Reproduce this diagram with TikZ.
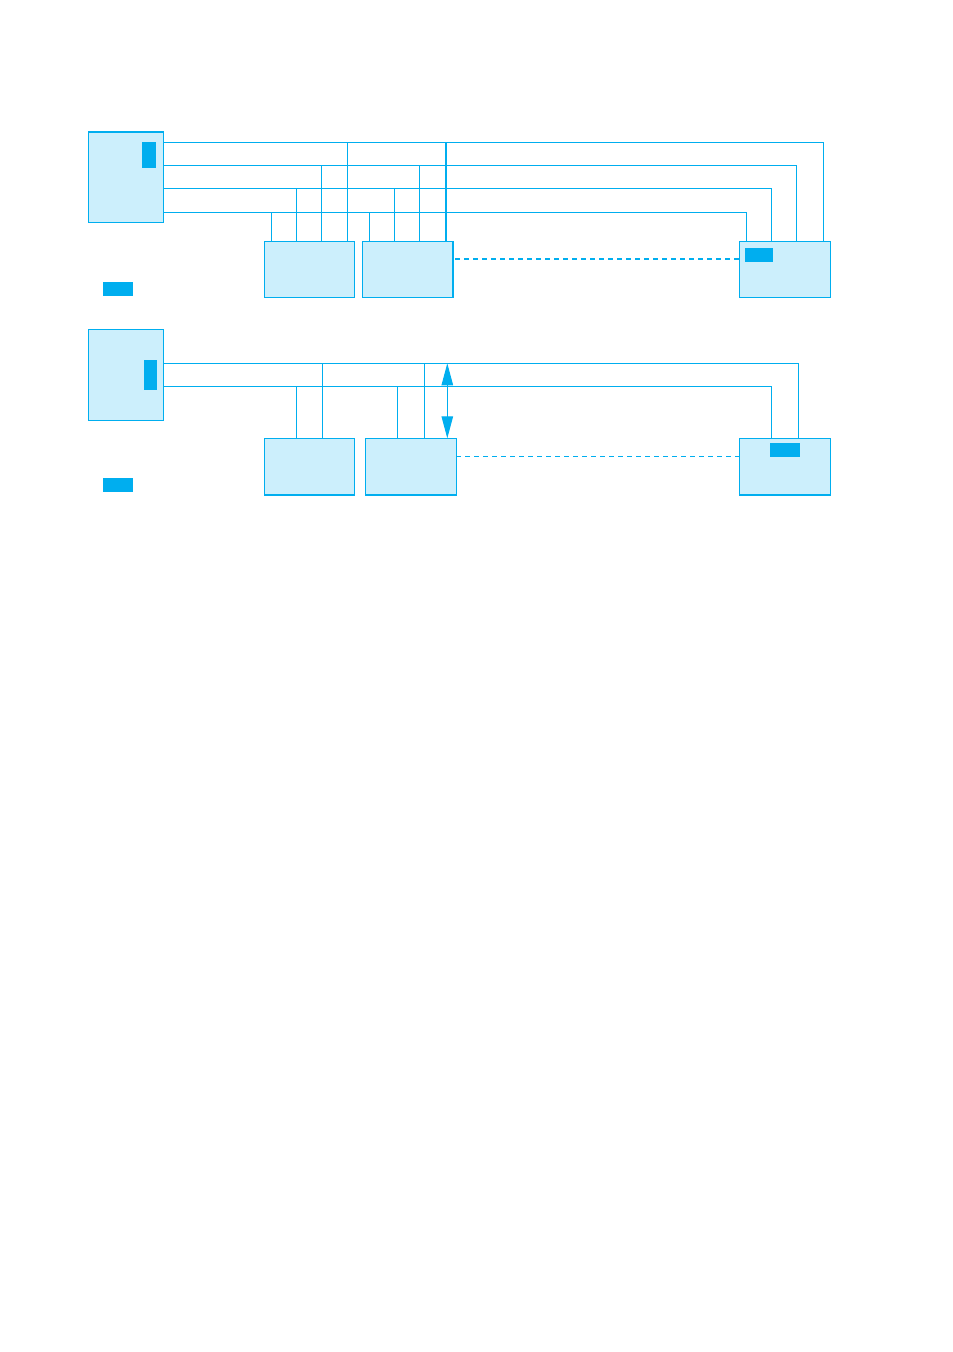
\documentclass[tikz,border=0pt]{standalone}
\usepackage{tikz}
\usetikzlibrary{arrows.meta}
\definecolor{linecol}{HTML}{00AEEF}
\definecolor{unitcol}{HTML}{CCEFFC}

\begin{document}
\begin{tikzpicture}[
    x=1pt, y=-1pt,
    unit/.style={rectangle, draw=linecol, line width=1pt, fill=unitcol,
        inner sep=0pt, outer sep=0pt},
    mainunit/.style={unit, minimum width=75pt},
    subunit/.style={unit, minimum width=90.8pt, anchor=north},
    tag/.style={rectangle, fill=linecol, inner sep=0pt, outer sep=0pt},
    bus/.style={draw=linecol, line width=1pt},
    edge/.style={draw=linecol, line width=2pt},
    link/.style={draw=linecol, dash pattern=on 5pt off 4pt},
    both/.style={draw=linecol, line width=1pt,
        {Triangle[length=22pt,width=11.5pt]}-{Triangle[length=22pt,width=11.5pt]}}
]
\useasboundingbox (0,0) rectangle (953,1352);

% upper group
\node (U1) [mainunit, minimum height=90.6pt] at (125.8,177) {};
\node (U2) [subunit, minimum height=56pt] at (309.5,241.3) {};
\node (U3) [subunit, minimum height=56pt] at (407.7,241.3) {};
\node (U4) [subunit, minimum height=56pt] at (785,241.3) {};
\node (Ua) [tag, minimum width=14pt, minimum height=26pt] at (149,155) {};
\node (Ub) [tag, minimum width=28pt, minimum height=14pt] at (759,255) {};
\node (Uc) [tag, minimum width=30pt, minimum height=14pt] at (118,289) {};

\foreach \ypos/\xa/\xb/\xc in {142.3/347.3/446/823.3, 165.3/321.3/419.3/796.3,
                               188.3/296.3/394.3/771.3, 212.3/271.3/369.3/746.3}
{
    \draw [bus] (U1.east |- 0,\ypos) -| (U4.north -| \xc,0);
    \draw [bus] (\xa,\ypos) -- (U2.north -| \xa,0);
    \draw [bus] (\xb,\ypos) -- (U3.north -| \xb,0);
}
\draw [edge] (U1.north west) -- (U1.north east);
\draw [edge] (U3.north east) -- (U3.south east);
\coordinate (Ut) at (446,142.3);
\draw [edge] (Ut) -- (U3.north -| Ut);
\draw [link, line width=2pt, shorten <=2pt] (U3.east |- 0,259) -- (U4.west |- 0,259);

% lower group
\node (L1) [mainunit, minimum height=91pt] at (125.8,374.8) {};
\node (L2) [subunit, minimum height=56.7pt] at (309.5,438.3) {};
\node (L3) [subunit, minimum height=56.7pt] at (411,438.3) {};
\node (L4) [subunit, minimum height=56.7pt] at (785,438.3) {};
\node (La) [tag, minimum width=13pt, minimum height=30pt] at (150.5,375) {};
\node (Lb) [tag, minimum width=30pt, minimum height=14pt] at (785,450) {};
\node (Lc) [tag, minimum width=30pt, minimum height=14pt] at (118,485) {};

\foreach \ypos/\xa/\xb/\xc in {363.3/322.3/424.3/798.3, 386.3/296.3/397.3/771.3}
{
    \draw [bus] (L1.east |- 0,\ypos) -| (L4.north -| \xc,0);
    \draw [bus] (\xa,\ypos) -- (L2.north -| \xa,0);
    \draw [bus] (\xb,\ypos) -- (L3.north -| \xb,0);
}
\foreach \n in {L2,L3,L4}
    \draw [edge] (\n.south west) -- (\n.south east);
\coordinate (Lt) at (447.3,363.3);
\draw [both] (Lt) -- (L3.north -| Lt);
\draw [link, line width=1pt] (L3.east |- 0,456.3) -- (L4.west |- 0,456.3);

\end{tikzpicture}
\end{document}
